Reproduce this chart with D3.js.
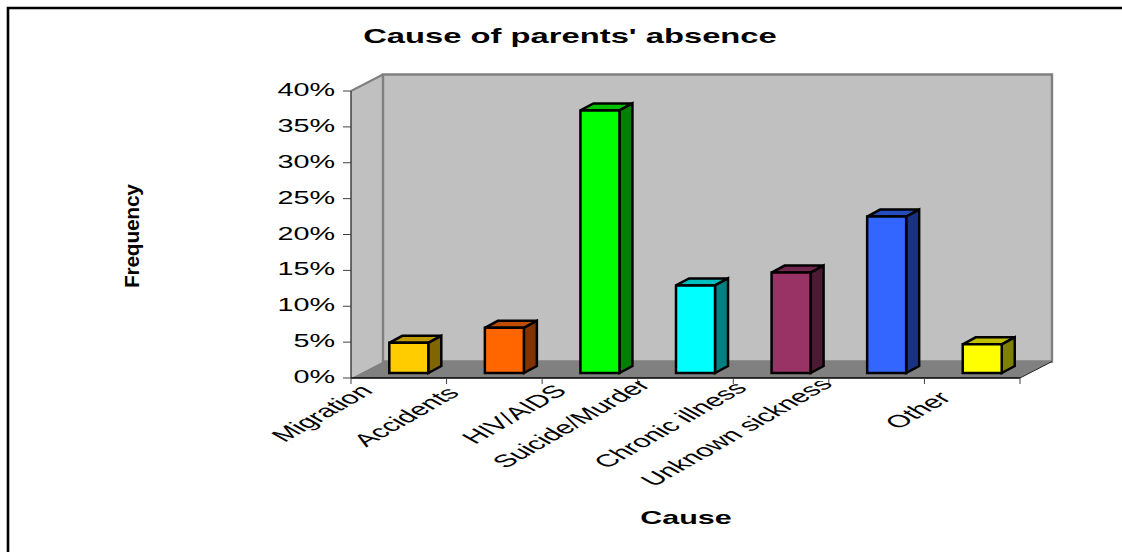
<!DOCTYPE html>
<html>
<head>
<meta charset="utf-8">
<style>
  html, body { margin: 0; padding: 0; background: #fff; }
  svg { display: block; }
  text { font-family: "Liberation Sans", Arial, sans-serif; fill: #000; }
</style>
<script src="https://cdn.jsdelivr.net/npm/d3@7/dist/d3.min.js"></script>
</head>
<body>
<script>
const categories = ["Migration", "Accidents", "HIV/AIDS", "Suicide/Murder", "Chronic illness", "Unknown sickness", "Other"];
const shares = [4.2, 6.3, 36.6, 12.2, 14.0, 21.8, 4.0];
const frontColors = ["#ffcc00", "#ff6600", "#00ff00", "#00ffff", "#993366", "#3366ff", "#ffff00"];
const yTicks = [0, 5, 10, 15, 20, 25, 30, 35, 40];

const width = 1122, height = 552;
const floorX = 351, floorRight = 1020;
const wallDx = 32, wallDy = -16.5;
const barInsetX = 38.3, barInsetY = -5;
const barDepthX = 13, barDepthY = -7;
const barW = 39;

// Hand adjustments for the slanted labels, whose spacing is uneven
const labelNudgeX = [0, -9, 3, -9, -8, -18, 5];
const labelNudgeY = [0, 2, 0, -6, -3, -7, 7];

const svg = d3.select("body").append("svg").attr("width", width).attr("height", height);

const x = d3.scaleBand().domain(categories).range([floorX, floorRight]);
const y = d3.scaleLinear().domain([0, 40]).range([378, 91]);

// Chart frame: only the top and left edges fall inside the page
svg.append("path")
  .attr("d", `M8,${height + 4}V8H${width + 4}`)
  .attr("fill", "none").attr("stroke", "#000").attr("stroke-width", 2.6);

// Back wall, side wall and floor of the 3-D box
const y0 = y(0), yT = y(40);
svg.append("polygon")
  .attr("points", [[floorX, yT], [floorX + wallDx, yT + wallDy], [floorX + wallDx, y0 + wallDy], [floorX, y0]].join(" "))
  .attr("fill", "#c0c0c0");
svg.append("polygon")
  .attr("points", [[floorX + wallDx, yT + wallDy], [floorRight + wallDx, yT + wallDy], [floorRight + wallDx, y0 + wallDy], [floorX + wallDx, y0 + wallDy]].join(" "))
  .attr("fill", "#c0c0c0").attr("stroke", "#808080").attr("stroke-width", 2.4);
svg.append("polygon")
  .attr("points", [[floorX, y0], [floorX + wallDx, y0 + wallDy], [floorRight + wallDx, y0 + wallDy], [floorRight, y0]].join(" "))
  .attr("fill", "#808080");
svg.append("path")
  .attr("d", `M${floorX},${yT}L${floorX + wallDx},${yT + wallDy}`)
  .attr("stroke", "#808080").attr("stroke-width", 2).attr("fill", "none");
svg.append("path")
  .attr("d", `M${floorRight},${y0}L${floorRight + wallDx},${y0 + wallDy}`)
  .attr("stroke", "#222").attr("stroke-width", 1).attr("fill", "none");

// Darkened versions of a bar colour for the top and side faces
function shade(hex, k) {
  const c = d3.rgb(hex);
  return d3.rgb(c.r * k, c.g * k, c.b * k).formatHex();
}

// Bars: front, top and right faces
const bars = svg.append("g").selectAll("g").data(categories).join("g");
bars.each(function (c, i) {
  const g = d3.select(this);
  const left = x(c) + barInsetX;
  const right = left + barW;
  const bottom = y0 + barInsetY;
  const top = bottom - (y0 - y(shares[i]));
  const faces = [
    { pts: [[left, top], [left + barDepthX, top + barDepthY], [right + barDepthX, top + barDepthY], [right, top]], fill: shade(frontColors[i], 0.75) },
    { pts: [[right, top], [right + barDepthX, top + barDepthY], [right + barDepthX, bottom + barDepthY], [right, bottom]], fill: shade(frontColors[i], 0.5) },
    { pts: [[left, top], [right, top], [right, bottom], [left, bottom]], fill: frontColors[i] }
  ];
  g.selectAll("polygon").data(faces).join("polygon")
    .attr("points", d => d.pts.join(" "))
    .attr("fill", d => d.fill)
    .attr("stroke", "#000").attr("stroke-width", 2.5).attr("stroke-linejoin", "miter");
});

// Value axis
const yAxis = svg.append("g");
yAxis.append("line").attr("x1", floorX).attr("x2", floorX).attr("y1", yT).attr("y2", y0)
  .attr("stroke", "#404040").attr("stroke-width", 1.5);
yAxis.selectAll("line.tick").data(yTicks).join("line").attr("class", "tick")
  .attr("x1", floorX - 8).attr("x2", floorX).attr("y1", d => y(d)).attr("y2", d => y(d))
  .attr("stroke", "#404040").attr("stroke-width", 1);
yAxis.selectAll("text").data(yTicks).join("text")
  .attr("transform", d => `translate(335,${y(d) + 5}) scale(1.6,1)`)
  .attr("text-anchor", "end").attr("font-size", 18)
  .text(d => d + "%");

// Category axis
const xAxis = svg.append("g");
xAxis.append("line").attr("x1", floorX).attr("x2", floorRight).attr("y1", y0).attr("y2", y0)
  .attr("stroke", "#000").attr("stroke-width", 1.5);
const tickXs = categories.map(c => x(c)).concat(floorRight);
xAxis.selectAll("line.tick").data(tickXs).join("line").attr("class", "tick")
  .attr("x1", d => d).attr("x2", d => d).attr("y1", y0).attr("y2", y0 + 6)
  .attr("stroke", "#404040").attr("stroke-width", 1);

// Slanted category labels, cut off just under the axis
svg.append("clipPath").attr("id", "labelClip")
  .append("rect").attr("x", 0).attr("y", y0 + 3).attr("width", width).attr("height", height);
svg.append("g").attr("clip-path", "url(#labelClip)")
  .selectAll("text").data(categories).join("text")
  .attr("transform", (c, i) => `translate(${x(c) + 23 + labelNudgeX[i]},${y0 + 14 + labelNudgeY[i]}) scale(1.71,0.97) rotate(-45)`)
  .attr("text-anchor", "end").attr("font-size", 18)
  .text(c => c);

// Titles
svg.append("text").attr("transform", "translate(570,43) scale(1.56,1)")
  .attr("text-anchor", "middle").attr("font-size", 21).attr("font-weight", "bold")
  .text("Cause of parents' absence");
svg.append("text").attr("transform", "translate(686,524) scale(1.65,1)")
  .attr("text-anchor", "middle").attr("font-size", 18.5).attr("font-weight", "bold")
  .text("Cause");
svg.append("text").attr("transform", "translate(139,236) rotate(-90)")
  .attr("text-anchor", "middle").attr("font-size", 21).attr("font-weight", "bold")
  .attr("textLength", 104).attr("lengthAdjust", "spacing")
  .text("Frequency");
</script>
</body>
</html>
